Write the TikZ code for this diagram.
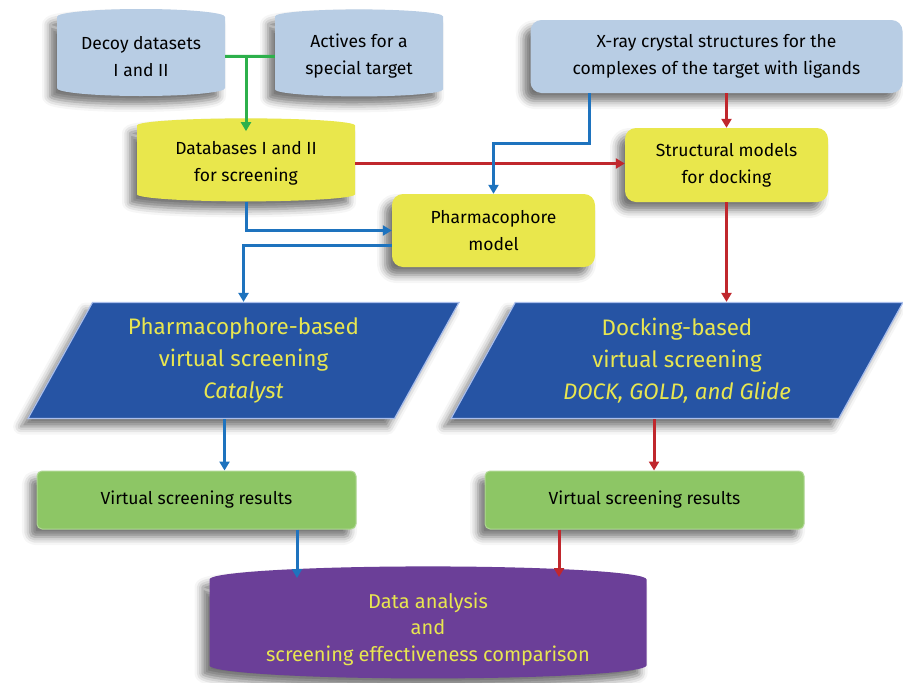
\documentclass[tikz,border=0pt]{standalone}
\usepackage{fontspec}
\setmainfont{Fira Sans}
\usetikzlibrary{arrows.meta,calc,shapes.geometric,shadows.blur}

\definecolor{boxblue}{RGB}{184,205,228}
\definecolor{boxyellow}{RGB}{233,231,76}
\definecolor{boxgreen}{RGB}{141,198,101}
\definecolor{paranavy}{RGB}{38,84,164}
\definecolor{paraedge}{RGB}{170,190,235}
\definecolor{drumpurple}{RGB}{107,63,152}
\definecolor{textyellow}{RGB}{232,230,80}
\definecolor{linkblue}{RGB}{30,115,190}
\definecolor{linkred}{RGB}{192,39,45}
\definecolor{linkgreen}{RGB}{45,176,75}

\newcommand{\boxfont}{\fontsize{17.5}{27}\selectfont}
\newcommand{\parafont}{\fontsize{22.4}{32}\selectfont}
\newcommand{\resfont}{\fontsize{17.5}{20}\selectfont}
\newcommand{\drumfont}{\fontsize{20}{26.5}\selectfont}

\tikzset{
  softshadow/.style={blur shadow={shadow xshift=-7pt,shadow yshift=-8pt,
      shadow blur radius=8pt,shadow opacity=55}},
  drum/.style={cylinder,shape border rotate=90,aspect=#1,draw=none,
    align=center,inner sep=0pt,softshadow},
  roundbox/.style={rectangle,rounded corners=11pt,draw=none,align=center,
    inner sep=0pt,softshadow,font=\boxfont},
  slantbox/.style={trapezium,trapezium left angle=53,trapezium right angle=127,
    trapezium stretches body,fill=paranavy,draw=paraedge,line width=1.2pt,
    align=center,inner sep=0pt,text=textyellow,font=\parafont,softshadow},
  resultbox/.style={rectangle,rounded corners=5pt,fill=boxgreen,
    draw=boxgreen!70!white,line width=1pt,minimum width=319pt,
    minimum height=58pt,font=\resfont,softshadow},
  link/.style={line width=3pt,-{Triangle[length=9pt,width=10pt]}},
  bluelink/.style={link,draw=linkblue},
  redlink/.style={link,draw=linkred},
  greenlink/.style={link,draw=linkgreen}
}

\begin{document}
\begin{tikzpicture}[x=1pt,y=-1pt]
  \useasboundingbox (0,0) rectangle (903,683);

  % sources
  \node[drum=0.13,fill=boxblue,minimum width=168pt,minimum height=87pt,
    font=\boxfont] (decoy) at (141,56.5) {Decoy datasets\\I and II};
  \node[drum=0.13,fill=boxblue,minimum width=168pt,minimum height=87pt,
    font=\boxfont] (actives) at (359,56.5) {Actives for a\\special target};
  \node[roundbox,fill=boxblue,minimum width=372pt,minimum height=73pt]
    (xray) at (716.5,56.5)
    {X-ray crystal structures for the\\complexes of the target with ligands};

  % models
  \node[drum=0.1,fill=boxyellow,minimum width=218pt,minimum height=83pt,
    font=\boxfont] (databases) at (246,163.5) {Databases I and II\\for screening};
  \node[roundbox,fill=boxyellow,minimum width=203pt,minimum height=74pt]
    (structural) at (726.5,165) {Structural models\\for docking};
  \node[roundbox,fill=boxyellow,minimum width=203pt,minimum height=73pt]
    (pharm) at (493.5,230.5) {Pharmacophore\\model};

  % screening
  \node[slantbox,minimum width=431pt,minimum height=116pt] (psv) at (243.5,360.5)
    {Pharmacophore-based\\virtual screening\\\textit{Catalyst}};
  \node[slantbox,minimum width=452pt,minimum height=116pt] (dsv) at (677,360.5)
    {Docking-based\\virtual screening\\\textit{DOCK, GOLD, and Glide}};

  \node[resultbox] (res1) at (196.5,500) {Virtual screening results};
  \node[resultbox] (res2) at (644.5,500) {Virtual screening results};

  \node[drum=0.08,fill=drumpurple,minimum width=437pt,minimum height=112pt,
    text=textyellow,font=\drumfont] (analysis) at (428,629)
    {Data analysis\\and\\screening effectiveness comparison};

  % connectors
  \draw[greenlink,-] (decoy.east) -- (actives.west);
  \draw[greenlink] (decoy.east -| databases.north) -- ([yshift=-13pt]databases.north);
  \draw[redlink] (databases.east) -- (databases.east -| structural.west);
  \draw[redlink] (structural.north |- xray.south) -- (structural.north);
  \coordinate (xbend) at (589,143);
  \draw[bluelink] (xbend |- xray.south) -- (xbend) -| (pharm.north);
  \draw[bluelink] (databases.south) |- (pharm.west);
  \draw[bluelink] ([yshift=-15pt]pharm.west) -| (psv.north);
  \draw[redlink] (structural.south) -- (structural.south |- dsv.north);
  \draw[bluelink] ([xshift=-19pt]psv.south) -- ([xshift=-19pt]psv.south |- res1.north);
  \draw[redlink] ([xshift=-23pt]dsv.south) -- ([xshift=-23pt]dsv.south |- res2.north);
  \coordinate (in1) at (297,578);
  \coordinate (in2) at (559,577);
  \draw[bluelink] (res1.south -| in1) -- (in1);
  \draw[redlink] (res2.south -| in2) -- (in2);
\end{tikzpicture}
\end{document}
